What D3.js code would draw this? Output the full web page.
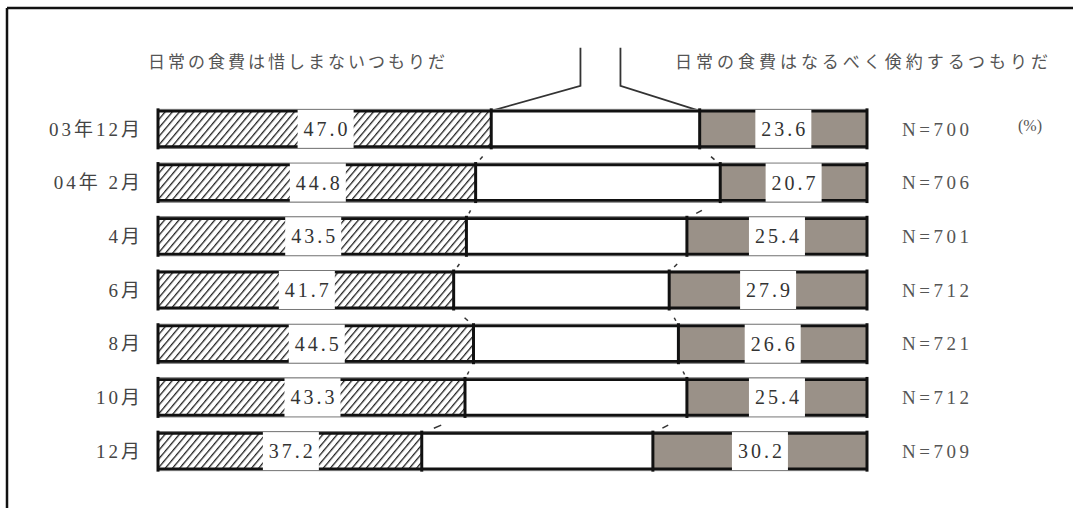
<!DOCTYPE html>
<html>
<head>
<meta charset="utf-8">
<script src="https://cdn.jsdelivr.net/npm/d3@7"></script>
<style>
  html, body { margin: 0; padding: 0; background: #fff; }
  svg { display: block; }
</style>
</head>
<body>
<svg id="chart" width="1073" height="508"></svg>
<script>
// survey months (rows)
var months = ["03年12月", "04年 2月", "4月", "6月", "8月", "10月", "12月"];
// 日常の食費は惜しまないつもりだ (%)
var spareValues = [47.0, 44.8, 43.5, 41.7, 44.5, 43.3, 37.2];
// 日常の食費はなるべく倹約するつもりだ (%)
var saveValues = [23.6, 20.7, 25.4, 27.9, 26.6, 25.4, 30.2];
var nValues = [700, 706, 701, 712, 721, 712, 709];
var headerLeft = "日常の食費は惜しまないつもりだ";
var headerRight = "日常の食費はなるべく倹約するつもりだ";
var unitLabel = "(%)";

var rows = months.map(function(m, i) {
  return { month: m, spare: spareValues[i], save: saveValues[i], n: nValues[i] };
});

var serif = "'Liberation Serif', 'DejaVu Serif', 'Noto Sans CJK JP'";
var svg = d3.select("#chart");
var gray = "#9a9188";

var x = d3.scaleLinear().domain([0, 100]).range([158, 867]);
var y = d3.scaleBand().domain(months).range([102, 478]).paddingInner(0.33).paddingOuter(0.165);
var bh = y.bandwidth();

// hatch pattern
var defs = svg.append("defs");
var pat = defs.append("pattern")
  .attr("id", "hatch")
  .attr("patternUnits", "userSpaceOnUse")
  .attr("width", 5.5)
  .attr("height", 5.5)
  .attr("patternTransform", "rotate(40)");
pat.append("rect").attr("width", 5.5).attr("height", 5.5).attr("fill", "#fff");
pat.append("line")
  .attr("x1", 0).attr("y1", 0).attr("x2", 0).attr("y2", 5.5)
  .attr("stroke", "#222").attr("stroke-width", 2.6);

// frame (top and left only)
svg.append("line").attr("x1", 7).attr("y1", 8).attr("x2", 1073).attr("y2", 8)
  .attr("stroke", "#111").attr("stroke-width", 2.5);
svg.append("line").attr("x1", 7).attr("y1", 8).attr("x2", 7).attr("y2", 508)
  .attr("stroke", "#111").attr("stroke-width", 2.5);

// headers
svg.append("text")
  .attr("x", 148).attr("y", 68)
  .attr("textLength", 297).attr("lengthAdjust", "spacing")
  .style("font-family", "'Noto Sans CJK JP'")
  .style("font-size", "17px").attr("fill", "#555")
  .text(headerLeft);
svg.append("text")
  .attr("x", 675).attr("y", 68)
  .attr("textLength", 373).attr("lengthAdjust", "spacing")
  .style("font-family", "'Noto Sans CJK JP'")
  .style("font-size", "17px").attr("fill", "#555")
  .text(headerRight);

// bracket above the middle segment of the first row
var first = rows[0];
var midX = (x(first.spare) + x(100 - first.save)) / 2 + 5;
var top0 = y(first.month);
var bracket = d3.line();
svg.append("path")
  .attr("d", bracket([[x(first.spare), top0], [midX - 20, top0 - 25], [midX - 20, top0 - 63]]))
  .attr("fill", "none").attr("stroke", "#333").attr("stroke-width", 1.8);
svg.append("path")
  .attr("d", bracket([[x(100 - first.save), top0], [midX + 20, top0 - 25], [midX + 20, top0 - 63]]))
  .attr("fill", "none").attr("stroke", "#333").attr("stroke-width", 1.8);

// connector marks between rows
rows.slice(0, -1).forEach(function(d, i) {
  var nx = rows[i + 1];
  var y0 = y(d.month) + bh, y1 = y(nx.month);
  [[x(d.spare), x(nx.spare)], [x(100 - d.save), x(100 - nx.save)]].forEach(function(p) {
    var t0 = 0.55, t1 = 0.72;
    svg.append("line")
      .attr("x1", p[0] + (p[1] - p[0]) * t0).attr("y1", y0 + (y1 - y0) * t0)
      .attr("x2", p[0] + (p[1] - p[0]) * t1).attr("y2", y0 + (y1 - y0) * t1)
      .attr("stroke", "#333").attr("stroke-width", 1.5);
  });
});

var bars = svg.selectAll("g.row")
  .data(rows)
  .enter()
  .append("g")
  .attr("class", "row")
  .attr("transform", function(d) { return "translate(0," + y(d.month) + ")"; });

// segments
bars.append("rect")
  .attr("x", x(0))
  .attr("width", function(d) { return x(d.spare) - x(0); })
  .attr("height", bh)
  .attr("fill", "url(#hatch)");
bars.append("rect")
  .attr("x", function(d) { return x(d.spare); })
  .attr("width", function(d) { return x(100 - d.save) - x(d.spare); })
  .attr("height", bh)
  .attr("fill", "#fff");
bars.append("rect")
  .attr("x", function(d) { return x(100 - d.save); })
  .attr("width", function(d) { return x(100) - x(100 - d.save); })
  .attr("height", bh)
  .attr("fill", gray);

// thick top/bottom borders
bars.append("line").attr("x1", x(0)).attr("x2", x(100)).attr("y1", 0).attr("y2", 0)
  .attr("stroke", "#111").attr("stroke-width", 3.2);
bars.append("line").attr("x1", x(0)).attr("x2", x(100)).attr("y1", bh).attr("y2", bh)
  .attr("stroke", "#111").attr("stroke-width", 3.2);

// white label boxes
var boxW = 56;
function spareMid(d) { return (x(0) + x(d.spare)) / 2 + 1; }
function saveMid(d) { return (x(100 - d.save) + x(100)) / 2; }
bars.append("rect")
  .attr("x", function(d) { return spareMid(d) - boxW / 2; })
  .attr("y", -1.6).attr("width", boxW).attr("height", bh + 3.2)
  .attr("fill", "#fff");
bars.append("rect")
  .attr("x", function(d) { return saveMid(d) - boxW / 2; })
  .attr("y", -1.6).attr("width", boxW).attr("height", bh + 3.2)
  .attr("fill", "#fff");

// thin edges over the boxes
bars.append("line").attr("x1", x(0)).attr("x2", x(100)).attr("y1", -1.5).attr("y2", -1.5)
  .attr("stroke", "#777").attr("stroke-width", 1);
bars.append("line").attr("x1", x(0)).attr("x2", x(100)).attr("y1", bh + 1.5).attr("y2", bh + 1.5)
  .attr("stroke", "#777").attr("stroke-width", 1);

// vertical dividers
bars.each(function(d) {
  var g = d3.select(this);
  [0, d.spare, 100 - d.save, 100].forEach(function(v) {
    g.append("line")
      .attr("x1", x(v)).attr("x2", x(v))
      .attr("y1", -2.5).attr("y2", bh + 2.5)
      .attr("stroke", "#111").attr("stroke-width", 3);
  });
});

// value labels
bars.append("text")
  .attr("x", function(d) { return spareMid(d) + 1.5; })
  .attr("y", bh / 2)
  .attr("dy", "0.35em")
  .attr("text-anchor", "middle")
  .style("font-family", serif)
  .style("font-size", "20px").style("letter-spacing", "3px")
  .attr("fill", "#333")
  .text(function(d) { return d.spare.toFixed(1); });
bars.append("text")
  .attr("x", function(d) { return saveMid(d) + 1.5; })
  .attr("y", bh / 2)
  .attr("dy", "0.35em")
  .attr("text-anchor", "middle")
  .style("font-family", serif)
  .style("font-size", "20px").style("letter-spacing", "3px")
  .attr("fill", "#333")
  .text(function(d) { return d.save.toFixed(1); });

// row labels
bars.append("text")
  .attr("x", 143)
  .attr("y", bh / 2)
  .attr("dy", "0.35em")
  .attr("text-anchor", "end")
  .style("font-family", serif)
  .style("font-size", "19px").style("letter-spacing", "3px")
  .attr("fill", "#444")
  .text(function(d) { return d.month; });

// N labels
bars.append("text")
  .attr("x", 902)
  .attr("y", bh / 2)
  .attr("dy", "0.35em")
  .style("font-family", serif)
  .style("font-size", "19px").style("letter-spacing", "3.5px")
  .attr("fill", "#555")
  .text(function(d) { return "N=" + d.n; });

svg.append("text")
  .attr("x", 1018).attr("y", y(first.month) + bh / 2 - 3)
  .attr("dy", "0.35em")
  .style("font-family", serif)
  .style("font-size", "16px")
  .attr("fill", "#555")
  .text(unitLabel);
</script>
</body>
</html>
